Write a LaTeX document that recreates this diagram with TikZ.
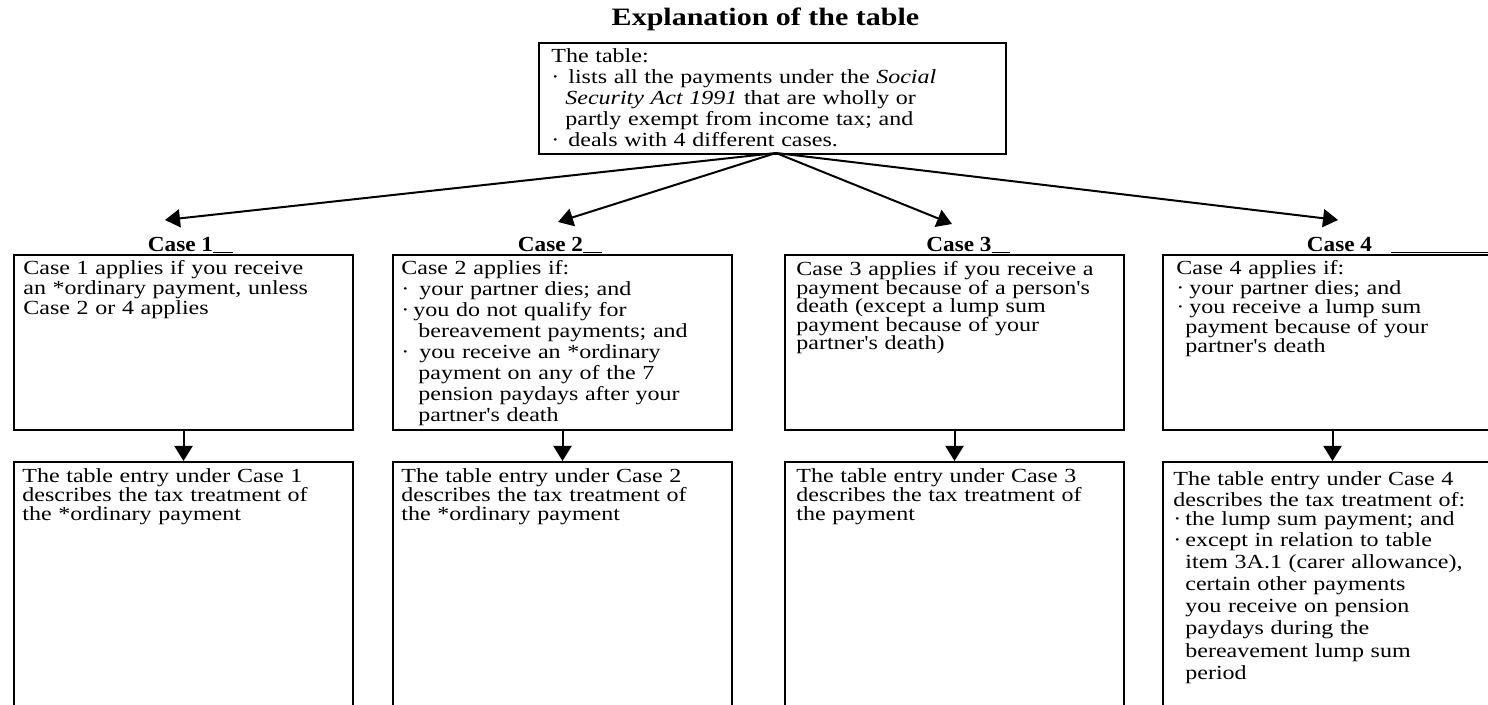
\documentclass[tikz,border=0pt]{standalone}
\usepackage{fontspec}
\newfontfamily\docfont{Liberation Serif}[FakeStretch=1.2]
\newfontfamily\labfont{Liberation Serif}[FakeStretch=1.08]
\usetikzlibrary{arrows.meta}

\newcommand{\bul}[1][6pt]{\makebox[#1][l]{·}}
\newcommand{\ind}[1][5pt]{\hspace*{#1}}
\lineskiplimit=-100pt
\normallineskiplimit=-100pt

\tikzset{
  box/.style={draw, line width=1pt, inner sep=0pt, anchor=north west},
  upbox/.style={box, minimum width=169.5pt, minimum height=87.5pt},
  lowbox/.style={box, minimum width=169.5pt, minimum height=140pt},
  txt/.style={font=\docfont\fontsize{10pt}{#1}\selectfont, text width=168pt,
    align=left, inner sep=0pt, anchor=base west,
    execute at begin node={\lineskiplimit=-100pt\relax}},
  txt/.default=10pt,
  title/.style={font=\docfont\bfseries\fontsize{12.5pt}{15pt}\selectfont, inner sep=0pt, anchor=base},
  caselab/.style={font=\labfont\bfseries\fontsize{10.75pt}{12pt}\selectfont, inner sep=0pt, anchor=base},
  uline/.style={line width=0.5pt},
  arr/.style={line width=1pt, -{Triangle[length=7.5pt, width=9pt]}}
}

\begin{document}
\begin{tikzpicture}[x=0.5pt,y=-0.5pt]
\useasboundingbox (0,0) rectangle (1488,705);
\clip (0,0) rectangle (1488,705);

% heading and the box under it
\node[title] (ttl) at (765.5,26) {Explanation of the table};
\node[box, minimum width=233.5pt, minimum height=55.5pt] (top) at (538,42.5) {};
\node[txt=10.5pt, text width=230pt] (toptxt) at (551,63) {The table:\\
  \bul[8.5pt]lists all the payments under the \textit{Social}\\
  \ind[7pt]\textit{Security Act 1991} that are wholly or\\
  \ind[7pt]partly exempt from income tax; and\\
  \bul[8.5pt]deals with 4 different cases.};

% case headings
\node[caselab] (lab1) at (180.5,252) {Case 1};
\node[caselab] (lab2) at (550.5,252) {Case 2};
\node[caselab] (lab3) at (959,252) {Case 3};
\node[caselab] (lab4) at (1339.5,252) {Case 4};
\draw[uline] ([yshift=-0.3pt]lab1.base east) -- ++(20,0);
\draw[uline] ([yshift=-0.3pt]lab2.base east) -- ++(19,0);
\draw[uline] ([yshift=-0.3pt]lab3.base east) -- ++(18,0);
\draw[uline] ([xshift=9.5pt,yshift=-0.3pt]lab4.base east) -- ++(120,0);

% upper boxes
\node[upbox] (up1) at (13,254) {};
\node[upbox] (up2) at (392,254) {};
\node[upbox] (up3) at (784,254) {};
\node[upbox] (up4) at (1162,254) {};

\node[txt] (t1) at (23,275) {Case 1 applies if you receive\\
  an *ordinary payment, unless\\
  Case 2 or 4 applies};
\node[txt=10.5pt] (t2) at (401,275) {Case 2 applies if:\\
  \bul[9pt]your partner dies; and\\
  \bul[6pt]you do not qualify for\\
  \ind[8.5pt]bereavement payments; and\\
  \bul[9pt]you receive an *ordinary\\
  \ind[8.5pt]payment on any of the 7\\
  \ind[8.5pt]pension paydays after your\\
  \ind[8.5pt]partner's death};
\node[txt=9.25pt] (t3) at (796,276) {Case 3 applies if you receive a\\
  payment because of a person's\\
  death (except a lump sum\\
  payment because of your\\
  partner's death)};
\node[txt=9.75pt] (t4) at (1176,275) {Case 4 applies if:\\
  \bul[6.5pt]your partner dies; and\\
  \bul[6.5pt]you receive a lump sum\\
  \ind[4.5pt]payment because of your\\
  \ind[4.5pt]partner's death};

% lower boxes
\node[lowbox] (low1) at (13,461) {};
\node[lowbox] (low2) at (392,461) {};
\node[lowbox] (low3) at (784,461) {};
\node[lowbox] (low4) at (1162,461) {};

\node[txt=9.5pt] (b1) at (22,482) {The table entry under Case 1\\
  describes the tax treatment of\\
  the *ordinary payment};
\node[txt=9.5pt] (b2) at (401,482) {The table entry under Case 2\\
  describes the tax treatment of\\
  the *ordinary payment};
\node[txt=9.5pt] (b3) at (796,482) {The table entry under Case 3\\
  describes the tax treatment of\\
  the payment};
\node[txt] (b4) at (1173,486) {The table entry under Case 4\\
  describes the tax treatment of:\\
  \bul[6pt]the lump sum payment; and\\
  \bul[6pt]except in relation to table\\[1.1pt]
  \ind[6pt]item 3A.1 (carer allowance),\\[1.1pt]
  \ind[6pt]certain other payments\\[1.1pt]
  \ind[6pt]you receive on pension\\[1.1pt]
  \ind[6pt]paydays during the\\[1.1pt]
  \ind[6pt]bereavement lump sum\\[1.1pt]
  \ind[6pt]period};

% arrows
\coordinate (hub) at (776,153);
\coordinate (e1) at (165,220);
\coordinate (e2) at (558,222);
\coordinate (e3) at (952,224);
\coordinate (e4) at (1338,220);
\draw[arr] (hub) -- (e1);
\draw[arr] (hub) -- (e2);
\draw[arr] (hub) -- (e3);
\draw[arr] (hub) -- (e4);

\draw[arr] (up1.south) -- (low1.north);
\draw[arr] (up2.south) -- (low2.north);
\draw[arr] (up3.south) -- (low3.north);
\draw[arr] (up4.south) -- (low4.north);
\end{tikzpicture}
\end{document}
